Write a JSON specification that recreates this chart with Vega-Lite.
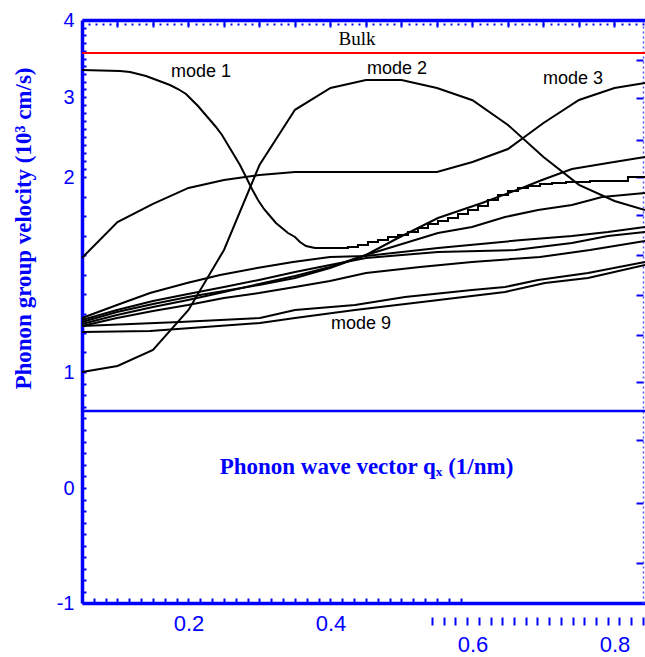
{
  "$schema": "https://vega.github.io/schema/vega-lite/v6.json",
  "width": 563,
  "height": 583,
  "autosize": "none",
  "padding": {"left": 82, "top": 20, "right": 0, "bottom": 54},
  "background": "white",
  "config": {"view": {"stroke": null}},
  "datasets": {
    "curves": [
      {"m": "mode 1", "q": 0.05, "v": 3.3506}, {"m": "mode 1", "q": 0.1035, "v": 3.3377}, {"m": "mode 1", "q": 0.1176, "v": 3.3247}, {"m": "mode 1", "q": 0.1289, "v": 3.2987}, {"m": "mode 1", "q": 0.1401, "v": 3.2727}, {"m": "mode 1", "q": 0.1514, "v": 3.2338}, {"m": "mode 1", "q": 0.1627, "v": 3.1948}, {"m": "mode 1", "q": 0.1739, "v": 3.1558}, {"m": "mode 1", "q": 0.1852, "v": 3.1039}, {"m": "mode 1", "q": 0.1965, "v": 3.039}, {"m": "mode 1", "q": 0.2049, "v": 2.9625}, {"m": "mode 1", "q": 0.2134, "v": 2.8875}, {"m": "mode 1", "q": 0.2218, "v": 2.8}, {"m": "mode 1", "q": 0.2303, "v": 2.7125}, {"m": "mode 1", "q": 0.2387, "v": 2.625}, {"m": "mode 1", "q": 0.2472, "v": 2.525}, {"m": "mode 1", "q": 0.2556, "v": 2.4}, {"m": "mode 1", "q": 0.2641, "v": 2.275}, {"m": "mode 1", "q": 0.2725, "v": 2.15}, {"m": "mode 1", "q": 0.281, "v": 2.0}, {"m": "mode 1", "q": 0.2894, "v": 1.9385}, {"m": "mode 1", "q": 0.2979, "v": 1.8821}, {"m": "mode 1", "q": 0.3063, "v": 1.8359}, {"m": "mode 1", "q": 0.3148, "v": 1.8}, {"m": "mode 1", "q": 0.3232, "v": 1.7641}, {"m": "mode 1", "q": 0.3317, "v": 1.7385}, {"m": "mode 1", "q": 0.3401, "v": 1.7128}, {"m": "mode 1", "q": 0.35, "v": 1.6923}, {"m": "mode 1", "q": 0.357, "v": 1.6667}, {"m": "mode 1", "q": 0.3655, "v": 1.6462}, {"m": "mode 1", "q": 0.3782, "v": 1.6359},
      {"m": "mode 2", "q": 0.05, "v": 1.0}, {"m": "mode 2", "q": 0.1, "v": 1.031}, {"m": "mode 2", "q": 0.15, "v": 1.113}, {"m": "mode 2", "q": 0.2, "v": 1.318}, {"m": "mode 2", "q": 0.25, "v": 1.626}, {"m": "mode 2", "q": 0.3, "v": 2.15}, {"m": "mode 2", "q": 0.35, "v": 2.84}, {"m": "mode 2", "q": 0.4, "v": 3.117}, {"m": "mode 2", "q": 0.45, "v": 3.22}, {"m": "mode 2", "q": 0.5, "v": 3.22}, {"m": "mode 2", "q": 0.55, "v": 3.117}, {"m": "mode 2", "q": 0.6, "v": 2.96}, {"m": "mode 2", "q": 0.65, "v": 2.65}, {"m": "mode 2", "q": 0.7, "v": 2.25}, {"m": "mode 2", "q": 0.75, "v": 1.96}, {"m": "mode 2", "q": 0.8, "v": 1.877}, {"m": "mode 2", "q": 0.843, "v": 1.8308},
      {"m": "mode 3", "q": 0.05, "v": 1.585}, {"m": "mode 3", "q": 0.1, "v": 1.769}, {"m": "mode 3", "q": 0.15, "v": 1.862}, {"m": "mode 3", "q": 0.2, "v": 1.944}, {"m": "mode 3", "q": 0.25, "v": 1.985}, {"m": "mode 3", "q": 0.3, "v": 2.025}, {"m": "mode 3", "q": 0.35, "v": 2.0625}, {"m": "mode 3", "q": 0.4, "v": 2.0625}, {"m": "mode 3", "q": 0.45, "v": 2.0625}, {"m": "mode 3", "q": 0.5, "v": 2.0625}, {"m": "mode 3", "q": 0.55, "v": 2.0625}, {"m": "mode 3", "q": 0.6, "v": 2.1875}, {"m": "mode 3", "q": 0.65, "v": 2.35}, {"m": "mode 3", "q": 0.7, "v": 2.675}, {"m": "mode 3", "q": 0.75, "v": 2.9625}, {"m": "mode 3", "q": 0.8, "v": 3.117}, {"m": "mode 3", "q": 0.843, "v": 3.182},
      {"m": "B", "q": 0.05, "v": 1.2564}, {"m": "B", "q": 0.0993, "v": 1.3077}, {"m": "B", "q": 0.15, "v": 1.3487}, {"m": "B", "q": 0.1993, "v": 1.3846}, {"m": "B", "q": 0.25, "v": 1.4154}, {"m": "B", "q": 0.2993, "v": 1.4462}, {"m": "B", "q": 0.35, "v": 1.4821}, {"m": "B", "q": 0.3993, "v": 1.5333}, {"m": "B", "q": 0.45, "v": 1.6}, {"m": "B", "q": 0.4951, "v": 1.6872}, {"m": "B", "q": 0.5514, "v": 1.7897}, {"m": "B", "q": 0.6134, "v": 1.8667}, {"m": "B", "q": 0.6697, "v": 1.9436}, {"m": "B", "q": 0.6979, "v": 1.9846}, {"m": "B", "q": 0.7401, "v": 2.1}, {"m": "B", "q": 0.7908, "v": 2.175}, {"m": "B", "q": 0.843, "v": 2.25},
      {"m": "C", "q": 0.05, "v": 1.2462}, {"m": "C", "q": 0.0993, "v": 1.2923}, {"m": "C", "q": 0.15, "v": 1.3333}, {"m": "C", "q": 0.1993, "v": 1.3692}, {"m": "C", "q": 0.25, "v": 1.4103}, {"m": "C", "q": 0.2993, "v": 1.4513}, {"m": "C", "q": 0.35, "v": 1.4923}, {"m": "C", "q": 0.3993, "v": 1.5385}, {"m": "C", "q": 0.45, "v": 1.6}, {"m": "C", "q": 0.5514, "v": 1.7128}, {"m": "C", "q": 0.5993, "v": 1.7436}, {"m": "C", "q": 0.6458, "v": 1.7949}, {"m": "C", "q": 0.6923, "v": 1.8308}, {"m": "C", "q": 0.7401, "v": 1.8564}, {"m": "C", "q": 0.7824, "v": 1.8974}, {"m": "C", "q": 0.843, "v": 1.9179},
      {"m": "D", "q": 0.05, "v": 1.2769}, {"m": "D", "q": 0.0993, "v": 1.3436}, {"m": "D", "q": 0.1458, "v": 1.4051}, {"m": "D", "q": 0.1979, "v": 1.4564}, {"m": "D", "q": 0.2444, "v": 1.4974}, {"m": "D", "q": 0.2965, "v": 1.5333}, {"m": "D", "q": 0.3472, "v": 1.5641}, {"m": "D", "q": 0.3993, "v": 1.5897}, {"m": "D", "q": 0.45, "v": 1.595}, {"m": "D", "q": 0.5514, "v": 1.6359}, {"m": "D", "q": 0.6697, "v": 1.6769}, {"m": "D", "q": 0.7401, "v": 1.6974}, {"m": "D", "q": 0.7908, "v": 1.7179}, {"m": "D", "q": 0.843, "v": 1.7436},
      {"m": "E", "q": 0.05, "v": 1.2667}, {"m": "E", "q": 0.0993, "v": 1.3179}, {"m": "E", "q": 0.15, "v": 1.3641}, {"m": "E", "q": 0.1993, "v": 1.4}, {"m": "E", "q": 0.25, "v": 1.4359}, {"m": "E", "q": 0.2993, "v": 1.4718}, {"m": "E", "q": 0.35, "v": 1.5128}, {"m": "E", "q": 0.3993, "v": 1.5487}, {"m": "E", "q": 0.45, "v": 1.5846}, {"m": "E", "q": 0.5514, "v": 1.6154}, {"m": "E", "q": 0.6599, "v": 1.6256}, {"m": "E", "q": 0.7401, "v": 1.6615}, {"m": "E", "q": 0.7908, "v": 1.6974}, {"m": "E", "q": 0.843, "v": 1.7179},
      {"m": "F", "q": 0.05, "v": 1.2359}, {"m": "F", "q": 0.0993, "v": 1.2769}, {"m": "F", "q": 0.15, "v": 1.3128}, {"m": "F", "q": 0.1993, "v": 1.3436}, {"m": "F", "q": 0.25, "v": 1.3795}, {"m": "F", "q": 0.2993, "v": 1.4051}, {"m": "F", "q": 0.35, "v": 1.4359}, {"m": "F", "q": 0.3993, "v": 1.4667}, {"m": "F", "q": 0.45, "v": 1.5077}, {"m": "F", "q": 0.5261, "v": 1.5385}, {"m": "F", "q": 0.5993, "v": 1.5641}, {"m": "F", "q": 0.6951, "v": 1.5897}, {"m": "F", "q": 0.7655, "v": 1.6256}, {"m": "F", "q": 0.843, "v": 1.6718},
      {"m": "G", "q": 0.05, "v": 1.2359}, {"m": "G", "q": 0.188, "v": 1.2564}, {"m": "G", "q": 0.3007, "v": 1.2769}, {"m": "G", "q": 0.35, "v": 1.3179}, {"m": "G", "q": 0.4345, "v": 1.3436}, {"m": "G", "q": 0.5049, "v": 1.3846}, {"m": "G", "q": 0.5993, "v": 1.4205}, {"m": "G", "q": 0.6458, "v": 1.4359}, {"m": "G", "q": 0.6923, "v": 1.4718}, {"m": "G", "q": 0.7627, "v": 1.5077}, {"m": "G", "q": 0.843, "v": 1.5641},
      {"m": "H", "q": 0.05, "v": 1.2051}, {"m": "H", "q": 0.1458, "v": 1.2103}, {"m": "H", "q": 0.3007, "v": 1.2513}, {"m": "H", "q": 0.35, "v": 1.2769}, {"m": "H", "q": 0.4345, "v": 1.3179}, {"m": "H", "q": 0.5289, "v": 1.359}, {"m": "H", "q": 0.6458, "v": 1.4103}, {"m": "H", "q": 0.7021, "v": 1.4564}, {"m": "H", "q": 0.7627, "v": 1.4821}, {"m": "H", "q": 0.843, "v": 1.5487}
    ],
    "mode1": [
      {"q": 0.3782, "v": 1.6359}, {"q": 0.4246, "v": 1.641}, {"q": 0.4387, "v": 1.6513}, {"q": 0.4528, "v": 1.6667}, {"q": 0.4669, "v": 1.6769}, {"q": 0.481, "v": 1.6923}, {"q": 0.4951, "v": 1.7026}, {"q": 0.5092, "v": 1.7179}, {"q": 0.5232, "v": 1.7385}, {"q": 0.5373, "v": 1.759}, {"q": 0.5514, "v": 1.7744}, {"q": 0.5655, "v": 1.7897}, {"q": 0.5796, "v": 1.8103}, {"q": 0.5937, "v": 1.8308}, {"q": 0.6077, "v": 1.8513}, {"q": 0.6218, "v": 1.8821}, {"q": 0.6359, "v": 1.9077}, {"q": 0.65, "v": 1.9282}, {"q": 0.6641, "v": 1.9436}, {"q": 0.6782, "v": 1.9538}, {"q": 0.6951, "v": 1.9641}, {"q": 0.712, "v": 1.9692}, {"q": 0.7317, "v": 1.9744}, {"q": 0.7655, "v": 1.9795}, {"q": 0.819, "v": 2.0}, {"q": 0.843, "v": 2.0}
    ],
    "modelabels": [
      {"label": "mode 1", "q": 0.2176, "v": 3.3247},
      {"label": "mode 2", "q": 0.4937, "v": 3.3636},
      {"label": "mode 3", "q": 0.7415, "v": 3.2338},
      {"label": "mode 9", "q": 0.443, "v": 1.2462}
    ],
    "bulklabel": [{"label": "Bulk", "q": 0.4373, "v": 3.7532}],
    "bulk": [{"name": "Bulk", "v": 3.5714}],
    "divider": [{"name": "divider", "v": 0.6638}]
  },
  "layer": [
    {
      "data": {"name": "curves"},
      "mark": {"type": "line", "color": "black", "strokeWidth": 2},
      "encoding": {
        "x": {
          "field": "q", "type": "quantitative",
          "scale": {"domain": [0.05, 0.843], "nice": false, "zero": false},
          "axis": {
            "orient": "bottom",
            "values": [0.05, 0.0667, 0.0833, 0.1, 0.1167, 0.1333, 0.15, 0.1667, 0.1833, 0.2, 0.2167, 0.2333, 0.25, 0.2667, 0.2833, 0.3, 0.3167, 0.3333, 0.35, 0.3667, 0.3833, 0.4, 0.4167, 0.4333, 0.45, 0.4667, 0.4833, 0.5, 0.5167, 0.5333, 0.55, 0.5667, 0.5833, 0.6, 0.8],
            "format": ".1f",
            "labelExpr": "(datum.value == 0.2 || datum.value == 0.4 || datum.value == 0.6 || datum.value == 0.8) ? datum.label : ''",
            "labelFont": "Liberation Sans", "labelFontSize": 22, "labelColor": "#0000ff",
            "labelPadding": {"condition": {"test": "datum.value > 0.55", "value": 36}, "value": 15},
            "labelFlush": false, "labelOverlap": false, "labelBound": false,
            "tickSize": -5, "tickWidth": 2, "tickColor": "#0000ff",
            "tickOpacity": {"condition": {"test": "datum.value > 0.59", "value": 0}, "value": 1},
            "domainColor": "#0000ff", "domainWidth": 3.5,
            "grid": false,
            "title": "Phonon wave vector qₓ (1/nm)",
            "titleFont": "Liberation Serif", "titleFontWeight": "bold", "titleFontSize": 23, "titleColor": "#0000ff",
            "titleX": 284, "titleY": -137, "titleAlign": "center", "titleBaseline": "middle"
          }
        },
        "y": {
          "field": "v", "type": "quantitative",
          "scale": {"domain": [-1, 0, 1, 2, 3, 4], "range": [583, 468, 352, 157, 77, 0], "nice": false, "zero": false},
          "axis": {
            "orient": "left",
            "tickCount": 50,
            "labelExpr": "datum.value % 1 === 0 ? '' + datum.value : ''",
            "labelFont": "Liberation Sans", "labelFontSize": 20, "labelColor": "#0000ff",
            "labelPadding": 12, "labelFlush": false, "labelOverlap": false, "labelBound": false,
            "tickSize": -4, "tickWidth": 2, "tickColor": "#0000ff",
            "domainColor": "#0000ff", "domainWidth": 3.5,
            "grid": false,
            "title": "Phonon group velocity (10³ cm/s)",
            "titleFont": "Liberation Serif", "titleFontWeight": "bold", "titleFontSize": 23, "titleColor": "#0000ff",
            "titleX": -59, "titleY": 208, "titleAngle": -90, "titleAlign": "center", "titleBaseline": "middle"
          }
        },
        "detail": {"field": "m", "type": "nominal"}
      }
    },
    {
      "data": {"name": "mode1"},
      "mark": {"type": "line", "color": "black", "strokeWidth": 2, "interpolate": "step-after"},
      "encoding": {
        "x": {
          "field": "q", "type": "quantitative",
          "scale": {"domain": [0.05, 0.843], "nice": false, "zero": false},
          "axis": {
            "orient": "bottom", "offset": 22, "domain": false, "labels": false, "grid": false, "title": null,
            "values": [0.543, 0.5595, 0.576, 0.5925, 0.609, 0.6255, 0.642, 0.6585, 0.675, 0.6915, 0.708, 0.7245, 0.741, 0.7575, 0.774, 0.7905, 0.807, 0.8235, 0.84],
            "tickSize": -8, "tickWidth": 2, "tickColor": "#0000ff"
          }
        },
        "y": {
          "field": "v", "type": "quantitative",
          "scale": {"domain": [-1, 0, 1, 2, 3, 4], "range": [583, 468, 352, 157, 77, 0], "nice": false, "zero": false},
          "axis": {
            "orient": "right", "offset": -2, "labels": false, "grid": false, "title": null,
            "values": [3.4805, 2.9875, 2.4625, 2.0, 1.8051, 1.6, 1.3949, 1.1897, 0.9138, 0.4138, -0.1304, -0.6522],
            "tickSize": -7, "tickWidth": 2, "tickColor": "#0000ff",
            "domainColor": "#5050ff", "domainWidth": 1.5, "domainDash": [2, 3]
          }
        }
      }
    },
    {
      "data": {"name": "modelabels"},
      "mark": {"type": "text", "font": "Liberation Sans", "fontSize": 18, "color": "black", "align": "center", "baseline": "middle"},
      "encoding": {
        "x": {
          "field": "q", "type": "quantitative",
          "scale": {"domain": [0.05, 0.843], "nice": false, "zero": false},
          "axis": {
            "orient": "top", "labels": false, "grid": false, "title": null,
            "values": [0.1, 0.15, 0.2, 0.25, 0.3, 0.35, 0.4, 0.45, 0.5, 0.55, 0.6, 0.65, 0.7, 0.75, 0.8],
            "tickSize": -7, "tickWidth": 2, "tickColor": "#0000ff",
            "domainColor": "#0000ff", "domainWidth": 3.5
          }
        },
        "y": {
          "field": "v", "type": "quantitative",
          "scale": {"domain": [-1, 0, 1, 2, 3, 4], "range": [583, 468, 352, 157, 77, 0], "nice": false, "zero": false},
          "axis": null
        },
        "text": {"field": "label", "type": "nominal"}
      }
    },
    {
      "data": {"name": "bulklabel"},
      "mark": {"type": "text", "font": "Liberation Serif", "fontSize": 19, "color": "black", "align": "center", "baseline": "middle"},
      "encoding": {
        "x": {
          "field": "q", "type": "quantitative",
          "scale": {"domain": [0.05, 0.843], "nice": false, "zero": false},
          "axis": {
            "orient": "top", "offset": -3, "domain": false, "labels": false, "grid": false, "title": null,
            "tickCount": 80, "tickSize": -2, "tickWidth": 2, "tickColor": "#0000ff"
          }
        },
        "y": {
          "field": "v", "type": "quantitative",
          "scale": {"domain": [-1, 0, 1, 2, 3, 4], "range": [583, 468, 352, 157, 77, 0], "nice": false, "zero": false},
          "axis": null
        },
        "text": {"field": "label", "type": "nominal"}
      }
    },
    {
      "data": {"name": "bulk"},
      "mark": {"type": "rule", "color": "#ff0000", "strokeWidth": 2},
      "encoding": {
        "y": {
          "field": "v", "type": "quantitative",
          "scale": {"domain": [-1, 0, 1, 2, 3, 4], "range": [583, 468, 352, 157, 77, 0], "nice": false, "zero": false},
          "axis": null
        }
      }
    },
    {
      "data": {"name": "divider"},
      "mark": {"type": "rule", "color": "#0000ff", "strokeWidth": 2.5},
      "encoding": {
        "y": {
          "field": "v", "type": "quantitative",
          "scale": {"domain": [-1, 0, 1, 2, 3, 4], "range": [583, 468, 352, 157, 77, 0], "nice": false, "zero": false},
          "axis": null
        }
      }
    }
  ],
  "resolve": {"axis": {"x": "independent", "y": "independent"}}
}
